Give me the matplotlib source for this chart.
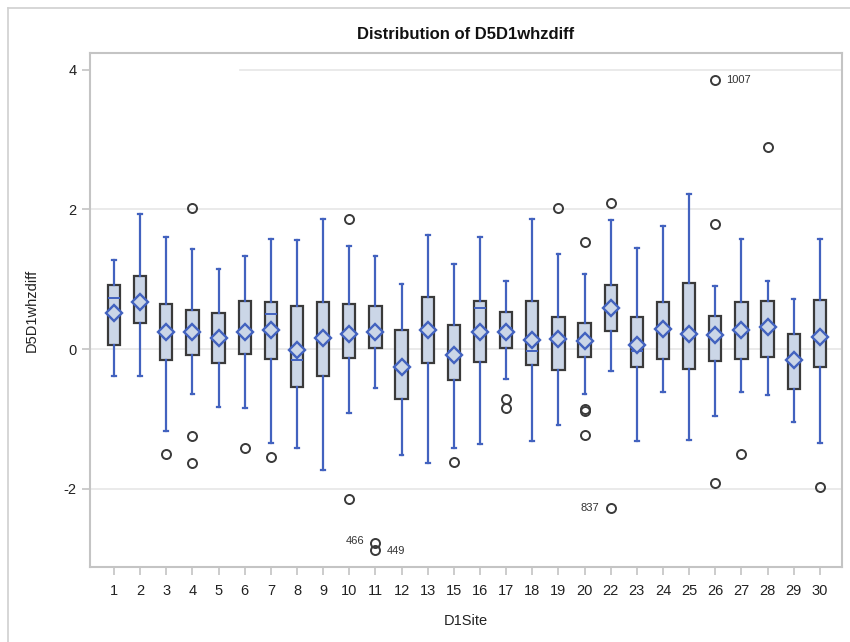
import matplotlib
matplotlib.use("Agg")
import matplotlib.pyplot as plt
from matplotlib.lines import Line2D

plt.rcParams["font.family"] = ["Liberation Sans", "DejaVu Sans"]

# D1Site 별 D5D1whzdiff 분포
sites = [1, 2, 3, 4, 5, 6, 7, 8, 9, 10, 11, 12, 13, 15, 16, 17, 18, 19, 20,
         22, 23, 24, 25, 26, 27, 28, 29, 30]
whis_lo = [-0.38, -0.39, -1.17, -0.64, -0.83, -0.85, -1.35, -1.41, -1.73, -0.92,
           -0.56, -1.51, -1.63, -1.41, -1.36, -0.43, -1.32, -1.09, -0.64,
           -0.31, -1.32, -0.61, -1.30, -0.96, -0.61, -0.66, -1.05, -1.35]
q1 = [0.06, 0.37, -0.16, -0.09, -0.20, -0.07, -0.14, -0.54, -0.38, -0.13,
      0.02, -0.71, -0.20, -0.44, -0.19, 0.02, -0.23, -0.30, -0.11,
      0.26, -0.26, -0.14, -0.28, -0.17, -0.14, -0.11, -0.57, -0.25]
median = [0.73, 0.68, 0.23, 0.25, 0.16, 0.25, 0.505, -0.16, 0.16, 0.22,
          0.24, -0.26, 0.27, -0.02, 0.59, 0.30, -0.03, 0.14, 0.12,
          0.59, -0.02, 0.29, 0.22, 0.195, 0.25, 0.31, -0.16, 0.16]
mean = [0.51, 0.68, 0.24, 0.25, 0.16, 0.25, 0.28, -0.01, 0.16, 0.22,
        0.24, -0.26, 0.27, -0.09, 0.25, 0.24, 0.13, 0.14, 0.12,
        0.59, 0.06, 0.29, 0.22, 0.195, 0.27, 0.31, -0.16, 0.18]
q3 = [0.92, 1.04, 0.64, 0.56, 0.51, 0.69, 0.67, 0.62, 0.67, 0.64,
      0.62, 0.27, 0.75, 0.35, 0.69, 0.53, 0.69, 0.46, 0.37,
      0.92, 0.46, 0.67, 0.94, 0.48, 0.67, 0.69, 0.21, 0.71]
whis_hi = [1.27, 1.94, 1.61, 1.43, 1.14, 1.33, 1.57, 1.56, 1.87, 1.47,
           1.33, 0.93, 1.64, 1.22, 1.61, 0.97, 1.86, 1.36, 1.08,
           1.85, 1.45, 1.76, 2.22, 0.90, 1.58, 0.98, 0.72, 1.57]
outliers = [[], [], [-1.50], [2.02, -1.25, -1.63], [], [-1.42], [-1.54], [], [], [1.87, -2.15],
            [-2.77, -2.87], [], [], [-1.61], [], [-0.72, -0.85], [], [2.02], [1.54, -0.86, -0.88, -1.23],
            [2.09, -2.27], [], [], [], [3.86, 1.79, -1.92], [-1.50], [2.90], [], [-1.97]]

# 라벨이 붙은 이상치: (site, 값, 라벨, 위치)
labeled = [(26, 3.86, "1007", "right"), (22, -2.27, "837", "left"),
           (11, -2.75, "466", "left"), (11, -2.89, "449", "right")]

BLUE = "#4262bf"
FILL = "#cbd6e7"

stats = []
for i, s in enumerate(sites):
    stats.append({"label": str(s), "whislo": whis_lo[i], "q1": q1[i], "med": median[i],
                  "mean": mean[i], "q3": q3[i], "whishi": whis_hi[i], "fliers": outliers[i]})

fig = plt.figure(figsize=(8.5, 6.42), dpi=100)
ax = fig.add_axes([90 / 850, 1 - 567 / 642, 752 / 850, (567 - 53) / 642])

pos = list(range(len(sites)))
ax.bxp(stats, positions=pos, widths=0.47, patch_artist=True, showmeans=True,
       capwidths=0.14,
       boxprops=dict(facecolor=FILL, edgecolor="#3a3a3a", linewidth=1.6),
       whiskerprops=dict(color=BLUE, linewidth=1.6),
       capprops=dict(color=BLUE, linewidth=1.6),
       medianprops=dict(color=BLUE, linewidth=1.4),
       meanprops=dict(marker="D", markersize=8.5, markerfacecolor=FILL,
                      markeredgecolor=BLUE, markeredgewidth=1.7),
       flierprops=dict(marker="o", markersize=6.5, markerfacecolor="none",
                       markeredgecolor="#3a3a3a", markeredgewidth=1.4))

for site, val, txt, side in labeled:
    x = sites.index(site)
    if side == "right":
        ax.annotate(txt, (x, val), xytext=(8, 0), textcoords="offset points",
                    ha="left", va="center", fontsize=8, color="#333333")
    else:
        ax.annotate(txt, (x, val), xytext=(-8, 0), textcoords="offset points",
                    ha="right", va="center", fontsize=8, color="#333333")

ax.set_xlim(-0.92, 27.85)
ax.set_ylim(-3.12, 4.24)
ax.set_yticks([-2, 0, 2, 4])
ax.set_yticklabels(["-2", "0", "2", "4"])
ax.set_xticks(pos)
ax.set_xticklabels([str(s) for s in sites])

for y in [-2, 0, 2]:
    ax.axhline(y, color="#e6e6e6", linewidth=1.2, zorder=0)
ax.axhline(4, xmin=0.2, color="#e6e6e6", linewidth=1.2, zorder=0)

for sp in ax.spines.values():
    sp.set_color("#c4c4c4")
    sp.set_linewidth(1.5)
ax.tick_params(axis="both", colors="#c4c4c4", length=6, width=1.2, labelsize=10.5,
               labelcolor="#222222")
ax.tick_params(axis="x", pad=6)

ax.set_xlabel("D1Site", fontsize=10.5, color="#222222", labelpad=12)
ax.set_ylabel("D5D1whzdiff", fontsize=10.5, color="#222222", labelpad=18)
ax.set_title("Distribution of D5D1whzdiff", fontsize=12, fontweight="bold",
             color="#111111", pad=10)

# 바깥 테두리 (왼쪽/위쪽만 보임)
fig.add_artist(Line2D([8 / 850, 8 / 850], [0, 1 - 8 / 642], color="#d0d0d0", linewidth=1.2))
fig.add_artist(Line2D([8 / 850, 1], [1 - 8 / 642, 1 - 8 / 642], color="#d0d0d0", linewidth=1.2))

fig.savefig("out.png", dpi=100)
